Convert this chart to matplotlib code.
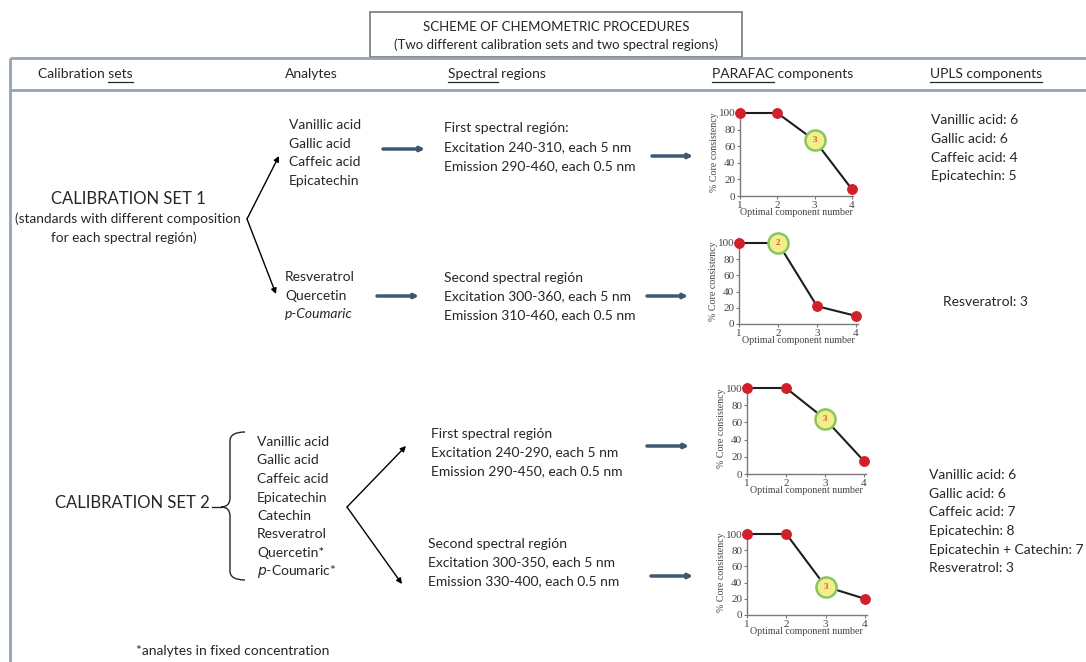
import matplotlib
matplotlib.use("Agg")
import matplotlib.pyplot as plt
from matplotlib.patches import Rectangle, PathPatch
from matplotlib.path import Path

plt.rcParams['font.family'] = ['Lato', 'DejaVu Sans']

W, H = 1086, 662
TEXT = '#262626'
FRAME = '#93a4b8'
ARROW_BLUE = '#3d5872'
NARROW = ['Liberation Sans Narrow', 'Lato', 'DejaVu Sans']
SERIF = ['Liberation Serif', 'DejaVu Serif']

# ---- data -------------------------------------------------------------
components = [1, 2, 3, 4]
core_set1_region1 = [100, 100, 67, 8]
core_set1_region2 = [100, 100, 22, 10]
core_set2_region1 = [100, 100, 64, 15]
core_set2_region2 = [100, 100, 35, 20]
optimal_components = [3, 2, 3, 3]

title_lines = ["SCHEME OF CHEMOMETRIC PROCEDURES",
               "(Two different calibration sets and two spectral regions)"]
column_headers = ["Calibration sets", "Analytes", "Spectral regions",
                  "PARAFAC components", "UPLS components"]
underlined_parts = ["sets", None, "Spectral", "PARAFAC", "UPLS components"]

set1_analytes_a = ["Vanillic acid", "Gallic acid", "Caffeic acid", "Epicatechin"]
set1_analytes_b = ["Resveratrol", "Quercetin", "p-Coumaric"]
set2_analytes = ["Vanillic acid", "Gallic acid", "Caffeic acid", "Epicatechin",
                 "Catechin", "Resveratrol", "Quercetin*", "p-Coumaric*"]

set1_region1 = ["First spectral región:", "Excitation 240-310, each 5 nm",
                "Emission 290-460, each 0.5 nm"]
set1_region2 = ["Second spectral región", "Excitation 300-360, each 5 nm",
                "Emission 310-460, each 0.5 nm"]
set2_region1 = ["First spectral región", "Excitation 240-290, each 5 nm",
                "Emission 290-450, each 0.5 nm"]
set2_region2 = ["Second spectral región", "Excitation 300-350, each 5 nm",
                "Emission 330-400, each 0.5 nm"]

upls_set1_a = ["Vanillic acid: 6", "Gallic acid: 6", "Caffeic acid: 4", "Epicatechin: 5"]
upls_set1_b = ["Resveratrol: 3"]
upls_set2 = ["Vanillic acid: 6", "Gallic acid: 6", "Caffeic acid: 7", "Epicatechin: 8",
             "Epicatechin + Catechin: 7", "Resveratrol: 3"]

# ---- canvas -----------------------------------------------------------
fig = plt.figure(figsize=(W / 100, H / 100), dpi=100)
ax = fig.add_axes([0, 0, 1, 1])
ax.set_xlim(0, W)
ax.set_ylim(H, 0)
ax.axis('off')
renderer = fig.canvas.get_renderer()


def text_width(s, **kw):
    t = ax.text(0, 0, s, **kw)
    bb = t.get_window_extent(renderer)
    t.remove()
    return bb.width


def text_block(x, y0, lines, dy, size=10, italic_rule=None, **kw):
    for i, s in enumerate(lines):
        style = 'normal'
        if italic_rule is not None and italic_rule(s):
            style = 'italic'
        if s.startswith('p-') and italic_rule is None:
            # only the "p" prefix is set in italics
            ax.text(x, y0 + i * dy, r"$\it{p}$" + s[1:], fontsize=size, color=TEXT,
                    va='center', ha='left', **kw)
        else:
            ax.text(x, y0 + i * dy, s, fontsize=size, color=TEXT, va='center',
                    ha='left', style=style, **kw)


def arrow(x0, y0, x1, y1, color='black', lw=1.0, scale=8):
    ax.annotate('', xy=(x1, y1), xytext=(x0, y0),
                arrowprops=dict(arrowstyle='-|>', color=color, lw=lw,
                                mutation_scale=scale, shrinkA=0, shrinkB=0))


# ---- title box and header band ----------------------------------------
ax.add_patch(Rectangle((370, 12), 372, 45, fill=False, ec='#777777', lw=1.2))
ax.text(556, 27, title_lines[0], ha='center', va='center', fontsize=9.5,
        color=TEXT, family=NARROW)
ax.text(556, 45, title_lines[1], ha='center', va='center', fontsize=9.5,
        color=TEXT, family=NARROW)

ax.plot([10, W], [58, 58], color=FRAME, lw=2, solid_capstyle='butt')
ax.plot([10, W], [90, 90], color=FRAME, lw=2, solid_capstyle='butt')
ax.plot([10, 10], [58, H], color=FRAME, lw=2, solid_capstyle='butt')

header_x = [38, 285, 448, 712, 930]
for x, label, part in zip(header_x, column_headers, underlined_parts):
    kw = dict(fontsize=10, family=NARROW)
    ax.text(x, 74, label, ha='left', va='center', color=TEXT, **kw)
    if part is None:
        continue
    full = text_width(label, **kw)
    wpart = text_width(part, **kw)
    if label.startswith(part):
        ux0, ux1 = x, x + wpart
    else:
        ux0, ux1 = x + full - wpart, x + full
    ax.plot([ux0, ux1], [82, 82], color=TEXT, lw=0.9)

# ---- calibration set 1 -------------------------------------------------
ax.text(128, 199, "CALIBRATION SET 1", ha='center', va='center', fontsize=12, color=TEXT)
ax.text(128, 219, "(standards with different composition", ha='center', va='center',
        fontsize=9.8, color=TEXT)
ax.text(124, 238, "for each spectral región)", ha='center', va='center',
        fontsize=9.8, color=TEXT)
arrow(247, 219, 279, 156)
arrow(247, 219, 276, 294)

text_block(289, 125, set1_analytes_a, 18.7)
text_block(285, 277, set1_analytes_b, 18.7,
           italic_rule=lambda s: s.startswith('p-'))

arrow(383, 149, 425, 149, color=ARROW_BLUE, lw=2.5, scale=6)
arrow(377, 296, 419, 296, color=ARROW_BLUE, lw=2.5, scale=6)
text_block(444, 128, set1_region1, 19)
text_block(444, 278, set1_region2, 18.5)
arrow(652, 156, 693, 156, color=ARROW_BLUE, lw=2.5, scale=6)
arrow(647, 296, 688, 296, color=ARROW_BLUE, lw=2.5, scale=6)

text_block(931, 120, upls_set1_a, 18.8)
text_block(943, 302, upls_set1_b, 18.8)

# ---- calibration set 2 -------------------------------------------------
ax.text(132, 503, "CALIBRATION SET 2", ha='center', va='center', fontsize=12, color=TEXT)
ax.plot([212, 221], [507, 507], color=TEXT, lw=1.0)
brace = Path([(245, 432), (230, 432), (230, 441),
              (230, 498), (230, 507), (221, 507),
              (230, 507), (230, 516),
              (230, 571), (230, 580), (245, 580)],
             [Path.MOVETO, Path.CURVE3, Path.CURVE3,
              Path.LINETO, Path.CURVE3, Path.CURVE3,
              Path.CURVE3, Path.CURVE3,
              Path.LINETO, Path.CURVE3, Path.CURVE3])
ax.add_patch(PathPatch(brace, fill=False, ec=TEXT, lw=1.0))

text_block(257, 442, set2_analytes, 18.5)

arrow(347, 507, 406, 446)
arrow(347, 507, 402, 584)
text_block(431, 434, set2_region1, 18.5)
text_block(428, 544, set2_region2, 18.5)
arrow(647, 446, 689, 446, color=ARROW_BLUE, lw=2.5, scale=6)
arrow(651, 576, 693, 576, color=ARROW_BLUE, lw=2.5, scale=6)

text_block(929, 475, upls_set2, 18.7)

ax.text(233, 651, "*analytes in fixed concentration", ha='center', va='center',
        fontsize=10, color=TEXT)


# ---- core consistency diagnostics --------------------------------------
def core_chart(px1, px4, py0, py100, values, opt):
    xhi, yhi = 4.04, 106
    sx = (px4 - px1) / 3.0
    sy = (py0 - py100) / 100.0
    left, right = px1, px1 + (xhi - 1) * sx
    top = py0 - yhi * sy
    a = fig.add_axes([left / W, 1 - py0 / H, (right - left) / W, (py0 - top) / H])
    a.set_xlim(1, xhi)
    a.set_ylim(0, yhi)
    a.patch.set_alpha(0)
    for side in ('top', 'right'):
        a.spines[side].set_visible(False)
    for side in ('left', 'bottom'):
        a.spines[side].set_color('#7a7a7a')
        a.spines[side].set_linewidth(1.0)
    a.set_xticks(components)
    a.set_yticks(range(0, 101, 20))
    a.tick_params(length=2.5, width=0.8, color='#7a7a7a', labelsize=8, pad=1,
                  labelcolor='#444444')
    for lab in a.get_xticklabels() + a.get_yticklabels():
        lab.set_family(SERIF)
    a.plot(components, values, color='#1e1e1e', lw=1.5, zorder=2, clip_on=False)
    a.plot(components, values, ls='none', marker='o', ms=6.8, mfc='#d2202b',
           mec='#d2202b', zorder=3, clip_on=False)
    v = values[components.index(opt)]
    a.scatter([opt], [v], s=210, fc='#f1ee8e', ec='#8cc45e', lw=1.8, zorder=4,
              clip_on=False)
    a.text(opt, v, str(opt), ha='center', va='center', fontsize=6.5,
           color='#e2571c', fontweight='bold', zorder=5, family=SERIF)
    a.set_xlabel("Optimal component number", fontsize=7.2, family=SERIF,
                 color='#444444', labelpad=-1.5)
    a.set_ylabel("% Core consistency", fontsize=7.2, family=SERIF,
                 color='#444444', labelpad=0)
    return a


core_chart(740, 852, 196, 113, core_set1_region1, optimal_components[0])
core_chart(739, 856, 324, 243, core_set1_region2, optimal_components[1])
core_chart(747, 864, 474, 388, core_set2_region1, optimal_components[2])
core_chart(747, 865, 615, 534, core_set2_region2, optimal_components[3])

fig.savefig("out.png", dpi=100)
